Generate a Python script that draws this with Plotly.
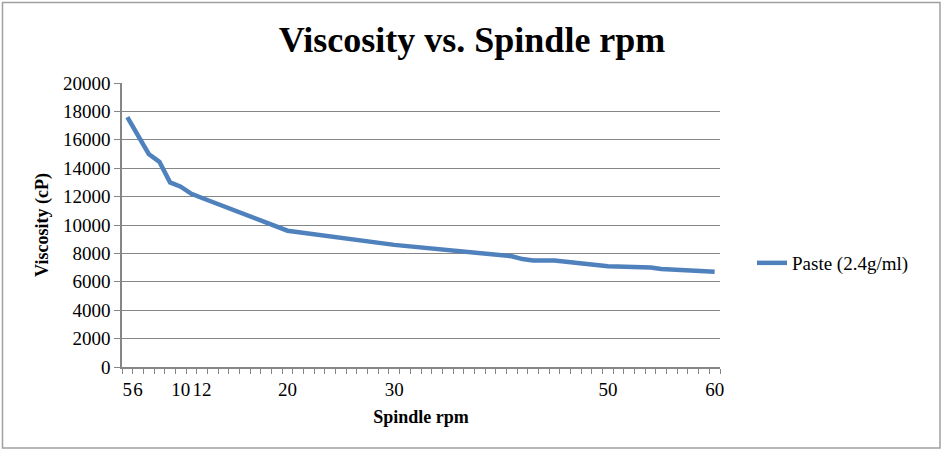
import plotly.graph_objects as go

rpm = [5, 7, 8, 9, 10, 11, 12, 20, 30, 39, 41, 42, 43, 45, 50, 54, 55, 60]
viscosity = [17600, 15000, 14450, 13000, 12700, 12200, 11900, 9600, 8600,
             7900, 7800, 7600, 7500, 7500, 7100, 7000, 6900, 6700]
x_labels = [5, 6, 10, 12, 20, 30, 50, 60]
y_ticks = list(range(0, 20001, 2000))
series_name = "Paste (2.4g/ml)"

W, H = 944, 450
L, R, T, B = 122, 224, 83, 83
pw, ph = W - L - R, H - T - B

def px_x(p):
    return (p - L) / pw

def px_y(p):
    return (H - B - p) / ph

FONT = "Liberation Serif"
GRID = "#868686"

fig = go.Figure()
fig.add_trace(go.Scatter(
    x=rpm, y=viscosity, mode="lines", name=series_name,
    line=dict(color="#4F81BD", width=4.5),
))

fig.update_layout(
    width=W, height=H,
    margin=dict(l=L, r=R, t=T, b=B),
    paper_bgcolor="white", plot_bgcolor="white",
    font=dict(family=FONT, color="black", size=19),
    title=dict(text="<b>Viscosity vs. Spindle rpm</b>", x=0.5, xref="container",
               xanchor="center", y=1 - 39 / H, yanchor="middle",
               font=dict(size=36, family=FONT)),
    showlegend=True,
    legend=dict(x=px_x(752), y=px_y(263), xanchor="left", yanchor="middle",
                font=dict(size=19, family=FONT), bgcolor="rgba(0,0,0,0)"),
    xaxis=dict(
        range=[4.5, 60.5], tickmode="array", tickvals=x_labels,
        ticktext=[str(v) for v in x_labels], ticks="", showgrid=False,
        tickangle=0,
        showline=True, linecolor=GRID, linewidth=1.5, zeroline=False,
        tickfont=dict(size=19, family=FONT), ticklabelstandoff=4,
        minor=dict(tickmode="linear", tick0=4.5, dtick=1, ticks="outside",
                   ticklen=5, tickcolor=GRID, tickwidth=1, showgrid=False),
        title=dict(text="<b>Spindle rpm</b>", font=dict(size=18, family=FONT), standoff=12),
    ),
    yaxis=dict(
        range=[0, 20000], tickmode="array", tickvals=y_ticks,
        ticktext=[str(v) for v in y_ticks],
        ticks="outside", ticklen=6, tickcolor=GRID, tickwidth=1,
        showgrid=True, gridcolor=GRID, gridwidth=1.2,
        showline=True, linecolor=GRID, linewidth=1.5, zeroline=False,
        tickfont=dict(size=19, family=FONT),
        title=dict(text="<b>Viscosity (cP)</b>", font=dict(size=18, family=FONT), standoff=10),
    ),
)

fig.add_shape(type="rect", xref="paper", yref="paper",
              x0=px_x(2.5), x1=px_x(940), y0=px_y(448), y1=px_y(2.5),
              line=dict(color="#A0A0A0", width=1.5), layer="below")

fig.write_html("out.html")
